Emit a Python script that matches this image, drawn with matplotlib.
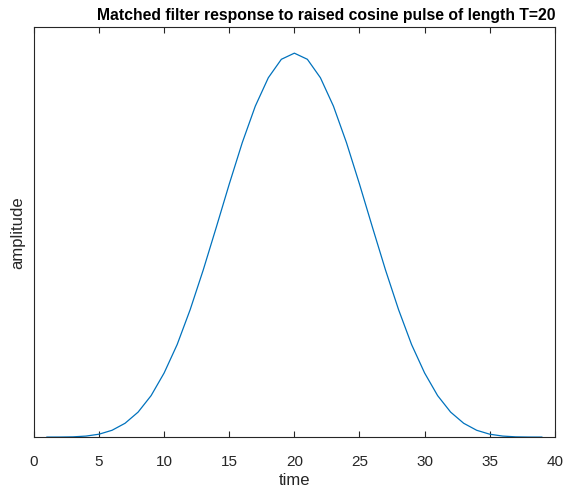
import matplotlib.pyplot as plt

plt.rcParams['font.family'] = ['Liberation Sans', 'DejaVu Sans']

# matched filter output (normalised to the peak)
tempo = list(range(1, 40))
lado = [0.0, 0.0001, 0.0006, 0.0026, 0.0075, 0.0177, 0.036, 0.065, 0.108,
        0.167, 0.241, 0.332, 0.435, 0.546, 0.659, 0.767, 0.862, 0.936, 0.984]
amplitude = lado + [1.0] + lado[::-1]

fig = plt.figure(figsize=(5.65, 4.9), dpi=100)
ax = fig.add_axes([0.060, 0.108, 0.922, 0.836])
ax.plot(tempo, amplitude, color='#0072BD', linewidth=0.9)

ax.set_xlim(0, 40)
ax.set_ylim(0, 1.067)
ax.set_xticks(range(0, 41, 5))
ax.set_yticks([])
ax.tick_params(axis='x', direction='in', top=True, length=4, width=0.8,
               labelsize=11, colors='#262626', pad=13)
for s in ax.spines.values():
    s.set_color('#262626')
    s.set_linewidth(0.8)

ax.set_title('Matched filter response to raised cosine pulse of length T=20',
             fontsize=11.3, fontweight='bold', pad=5, x=0.561)
ax.set_xlabel('time', fontsize=12, color='#262626', labelpad=3)
ax.set_ylabel('amplitude', fontsize=12, color='#262626', labelpad=6)

fig.savefig('out.png', dpi=100)
